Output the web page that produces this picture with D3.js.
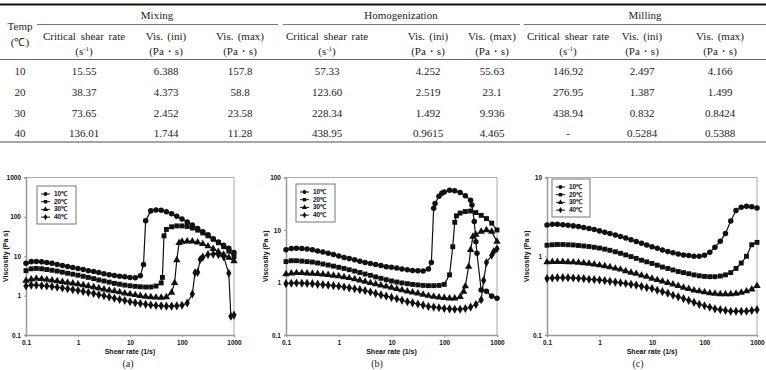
<!DOCTYPE html>
<html>
<head>
<meta charset="utf-8">
<script src="https://cdn.jsdelivr.net/npm/d3@7"></script>
<style>
  body { margin: 0; background: #fff; }
  svg { display: block; }
  .tbl text { font-family: "Liberation Serif", "Times New Roman", serif; font-size: 11px; fill: #222; text-anchor: middle; }
  .plot text { font-family: "Liberation Sans", Arial, sans-serif; font-weight: bold; font-size: 6.5px; fill: #111; }
  .plot .ttl { font-size: 7px; }
  .caption { font-family: "Liberation Serif", serif; font-size: 10px; fill: #222; text-anchor: middle; }
</style>
</head>
<body>
<svg id="fig" width="766" height="370"></svg>
<script>
// ---- table values ----
const tableTemps  = ["10", "20", "30", "40"];
const mixCritical = ["15.55", "38.37", "73.65", "136.01"];
const mixIni      = ["6.388", "4.373", "2.452", "1.744"];
const mixMax      = ["157.8", "58.8", "23.58", "11.28"];
const homCritical = ["57.33", "123.60", "228.34", "438.95"];
const homIni      = ["4.252", "2.519", "1.492", "0.9615"];
const homMax      = ["55.63", "23.1", "9.936", "4.465"];
const milCritical = ["146.92", "276.95", "438.94", "-"];
const milIni      = ["2.497", "1.387", "0.832", "0.5284"];
const milMax      = ["4.166", "1.499", "0.8424", "0.5388"];

// ---- chart values ----
const temps = ["10\u2103", "20\u2103", "30\u2103", "40\u2103"];
const rateTicks = [0.1, 1, 10, 100, 1000];
const rateLabels = ["0.1", "1", "10", "100", "1000"];

const shearRate = [0.1, 0.126, 0.158, 0.2, 0.251, 0.316, 0.398, 0.501, 0.631, 0.794,
  1, 1.26, 1.58, 2, 2.51, 3.16, 3.98, 5.01, 6.31, 7.94,
  10, 12.6, 15.8, 20, 25.1, 31.6, 39.8, 50.1, 63.1, 79.4,
  100, 126, 158, 200, 251, 316, 398, 501, 631, 794, 1000];

// (a) mixing
const mix10 = [6.6,7.3,7.4,7.2,6.9,6.6,6.2,5.8,5.5,5.2, 4.9,4.6,4.3,4.1,3.85,3.6,3.4,3.25,3.1,3.0,
  2.9,2.85,3.2,80,142,150,147,135,120,104, 88,74,62,51,42,35,28,23,19,16, 12.5];
const mix20 = [4.3,4.8,4.9,4.8,4.6,4.4,4.2,3.95,3.7,3.5, 3.3,3.1,2.9,2.7,2.5,2.35,2.2,2.05,1.95,1.85,
  1.78,1.72,1.68,1.65,1.66,1.75,2.1,48,56,59, 59,57,52,46,39,33,27,22,17.5,13.5, 9.8];
const mix30 = [2.4,2.6,2.7,2.65,2.55,2.45,2.35,2.25,2.15,2.05, 1.95,1.85,1.75,1.65,1.55,1.45,1.37,1.3,1.22,1.15,
  1.1,1.04,0.99,0.95,0.92,0.9,0.89,0.92,1.2,8, 23.5,24,24,22.5,20.5,18,15.5,13,11,9.3, 7.5];
const mix40 = [1.75,1.85,1.85,1.8,1.75,1.7,1.63,1.56,1.49,1.42, 1.35,1.28,1.2,1.13,1.06,0.99,0.92,0.86,0.8,0.75,
  0.7,0.66,0.63,0.6,0.58,0.56,0.55,0.54,0.54,0.55, 0.57,0.65,1.1,3.9,9.5,11,11.3,11,9.8,3.7, 0.32];
// extra readings in the jumps: [series, rate, viscosity]
const mixExtra = [[0, 18.2, 6.2], [1, 42, 2.9], [1, 45, 33], [2, 72, 2.1], [2, 88, 22],
  [3, 178, 3.8], [3, 224, 8.3], [3, 870, 0.3]];

// (b) homogenization
const hom10 = [4.2,4.45,4.5,4.45,4.35,4.2,4.0,3.8,3.6,3.4, 3.2,3.0,2.85,2.7,2.55,2.4,2.3,2.2,2.1,2.0,
  1.95,1.88,1.8,1.75,1.7,1.67,1.65,1.8,26,44, 53,57,56,52,45,37,6,0.72,0.68,0.55, 0.5];
const hom20 = [2.5,2.6,2.6,2.55,2.5,2.45,2.35,2.25,2.15,2.05, 1.95,1.85,1.75,1.65,1.55,1.45,1.37,1.28,1.2,1.13,
  1.07,1.02,0.98,0.95,0.92,0.9,0.88,0.87,0.87,0.88, 0.92,1.4,14,21,22.5,23,21.5,19,16.5,13.5, 10];
const hom30 = [1.45,1.5,1.52,1.52,1.5,1.48,1.46,1.43,1.4,1.36, 1.32,1.27,1.22,1.16,1.1,1.04,0.98,0.93,0.88,0.84,
  0.8,0.76,0.72,0.68,0.65,0.62,0.59,0.56,0.54,0.52, 0.51,0.5,0.5,0.53,0.85,4.2,8.2,9.3,10,9.3, 6];
const hom40 = [0.95,0.97,0.98,0.97,0.96,0.95,0.93,0.91,0.89,0.87, 0.85,0.82,0.79,0.76,0.73,0.7,0.66,0.62,0.58,0.55,
  0.52,0.49,0.46,0.43,0.41,0.39,0.37,0.35,0.34,0.33, 0.32,0.315,0.31,0.31,0.32,0.34,0.38,0.47,2.4,3.3, 4.4];
const homExtra = [[0, 57, 2.4], [0, 67, 32], [0, 90, 50], [0, 335, 30], [0, 371, 14.5], [0, 417, 3.6],
  [1, 145, 4.8], [1, 170, 18.6], [2, 233, 0.67], [2, 290, 2.0], [2, 350, 7.5], [3, 558, 1.1], [3, 870, 3.9]];

// (c) milling
const mil10 = [2.5,2.55,2.55,2.52,2.48,2.43,2.38,2.32,2.25,2.18, 2.1,2.02,1.94,1.86,1.78,1.7,1.62,1.54,1.46,1.39,
  1.32,1.26,1.2,1.15,1.11,1.07,1.04,1.02,1.0,1.0, 1.03,1.12,1.3,1.55,1.95,2.8,3.8,4.2,4.3,4.25, 4.1];
const mil20 = [1.38,1.4,1.41,1.41,1.4,1.39,1.37,1.35,1.33,1.3, 1.27,1.23,1.19,1.14,1.09,1.04,0.99,0.94,0.89,0.85,
  0.81,0.77,0.73,0.7,0.67,0.64,0.62,0.6,0.58,0.565, 0.555,0.55,0.55,0.56,0.58,0.62,0.7,0.82,1.0,1.4, 1.5];
const mil30 = [0.84,0.85,0.85,0.85,0.845,0.84,0.83,0.82,0.805,0.79, 0.77,0.75,0.73,0.7,0.68,0.65,0.62,0.6,0.57,0.55,
  0.52,0.5,0.48,0.46,0.44,0.42,0.4,0.385,0.37,0.36, 0.35,0.34,0.335,0.33,0.33,0.33,0.335,0.345,0.36,0.38, 0.42];
const mil40 = [0.52,0.53,0.535,0.535,0.535,0.53,0.525,0.52,0.51,0.505, 0.5,0.49,0.48,0.47,0.46,0.45,0.44,0.43,0.415,0.4,
  0.39,0.37,0.355,0.34,0.32,0.305,0.29,0.275,0.26,0.245, 0.235,0.225,0.215,0.21,0.205,0.2,0.2,0.2,0.2,0.205, 0.21];
const milExtra = [];

const svg = d3.select("#fig");

// ================= table =================
const tbl = svg.append("g").attr("class", "tbl");
const colX = [20, 84, 166, 240, 327, 428, 492, 568, 642, 720];
const rowY = [75, 96, 117, 137];

function hline(x1, x2, y, col, w) {
  tbl.append("line").attr("x1", x1).attr("x2", x2).attr("y1", y).attr("y2", y)
    .attr("stroke", col).attr("stroke-width", w);
}
hline(0, 766, 4.5, "#111", 2);
hline(37, 278, 24.5, "#777", 1);
hline(283, 520, 24.5, "#777", 1);
hline(524, 766, 24.5, "#777", 1);
hline(0, 766, 59.5, "#666", 1);
hline(0, 766, 142, "#888", 1.5);

tbl.append("text").attr("x", colX[0]).attr("y", 30).text("Temp");
tbl.append("text").attr("x", colX[0]).attr("y", 46).text("(\u2103)");
[["Mixing", 157], ["Homogenization", 401], ["Milling", 645]].forEach(function(g) {
  tbl.append("text").attr("x", g[1]).attr("y", 19).text(g[0]);
});

const subHead = ["crit", "ini", "max", "crit", "ini", "max", "crit", "ini", "max"];
subHead.forEach(function(kind, i) {
  const cx = colX[i + 1];
  const t1 = tbl.append("text").attr("x", cx).attr("y", 40).attr("word-spacing", kind === "crit" ? 2 : 1.5);
  const t2 = tbl.append("text").attr("x", cx).attr("y", 55);
  if (kind === "crit") {
    t1.text("Critical shear rate");
    t2.append("tspan").text("(s");
    t2.append("tspan").attr("dy", -4).attr("font-size", 7).text("-1");
    t2.append("tspan").attr("dy", 4).text(")");
  } else {
    t1.text(kind === "ini" ? "Vis. (ini)" : "Vis. (max)");
    t2.text("(Pa\u30FBs)");
  }
});

const tableCols = [tableTemps, mixCritical, mixIni, mixMax, homCritical, homIni, homMax, milCritical, milIni, milMax];
tableCols.forEach(function(col, c) {
  col.forEach(function(v, r) {
    tbl.append("text").attr("x", colX[c]).attr("y", rowY[r]).text(v);
  });
});

// ================= charts =================
const symbols = [d3.symbolCircle, d3.symbolSquare, d3.symbolTriangle, d3.symbolDiamond];

const panels = [
  { series: [mix10, mix20, mix30, mix40], extra: mixExtra, yDomain: [0.1, 1000],
    yTicks: [0.1, 1, 10, 100, 1000], yLabels: ["0.1", "1", "10", "100", "1000"],
    left: 26, right: 234, top: 177.5, bottom: 335, ylabX: 7.5, legend: [37, 186, 39, 38], cap: "(a)", capX: 128 },
  { series: [hom10, hom20, hom30, hom40], extra: homExtra, yDomain: [0.1, 100],
    yTicks: [0.1, 1, 10, 100], yLabels: ["0.1", "1", "10", "100"],
    left: 286, right: 497, top: 177.5, bottom: 335, ylabX: 267.5, legend: [296, 184, 39, 38], cap: "(b)", capX: 377 },
  { series: [mil10, mil20, mil30, mil40], extra: milExtra, yDomain: [0.1, 10],
    yTicks: [0.1, 1, 10], yLabels: ["0.1", "1", "10"],
    left: 547, right: 757, top: 177.5, bottom: 335, ylabX: 528.5, legend: [552, 179, 38, 38], cap: "(c)", capX: 638 }
];

panels.forEach(function(p) {
  const g = svg.append("g").attr("class", "plot");
  const x = d3.scaleLog().domain([0.1, 1000]).range([p.left, p.right]);
  const y = d3.scaleLog().domain(p.yDomain).range([p.bottom, p.top]);

  // top / right frame
  g.append("path")
    .attr("d", "M" + p.left + "," + p.top + "H" + p.right + "V" + p.bottom)
    .attr("fill", "none").attr("stroke", "#aaa").attr("stroke-width", 1);

  const ya = g.append("g").attr("transform", "translate(" + p.left + ",0)")
    .call(d3.axisLeft(y).tickValues(p.yTicks).tickFormat(function(d, i) { return p.yLabels[i]; })
      .tickSize(2).tickPadding(3));
  const xa = g.append("g").attr("transform", "translate(0," + p.bottom + ")")
    .call(d3.axisBottom(x).tickValues(rateTicks).tickFormat(function(d, i) { return rateLabels[i]; })
      .tickSize(2).tickPadding(3));
  [ya, xa].forEach(function(a) {
    a.select(".domain").attr("stroke", "#999").attr("stroke-width", 1.5);
    a.selectAll(".tick line").attr("stroke", "#999");
    a.selectAll("text").attr("font-family", null).attr("font-size", null);
  });

  g.append("text").attr("class", "ttl").attr("x", (p.left + p.right) / 2).attr("y", 354)
    .attr("text-anchor", "middle").text("Shear rate (1/s)");
  g.append("text").attr("class", "ttl")
    .attr("transform", "translate(" + p.ylabX + "," + (p.top + p.bottom) / 2 + ") rotate(-90)")
    .attr("text-anchor", "middle").text("Viscosity (Pa s)");

  const line = d3.line().x(function(d) { return x(d[0]); }).y(function(d) { return y(d[1]); });

  p.series.forEach(function(vals, si) {
    let pts = shearRate.map(function(r, i) { return [r, vals[i]]; });
    p.extra.filter(function(e) { return e[0] === si; }).forEach(function(e) { pts.push([e[1], e[2]]); });
    pts.sort(function(a, b) { return a[0] - b[0]; });

    g.append("path").datum(pts).attr("d", line)
      .attr("fill", "none").attr("stroke", "#111").attr("stroke-width", 1.2);
    g.selectAll(null).data(pts).enter().append("path")
      .attr("transform", function(d) { return "translate(" + x(d[0]) + "," + y(d[1]) + ")"; })
      .attr("d", d3.symbol().type(symbols[si]).size(24))
      .attr("fill", "#111");
  });

  // legend
  const L = p.legend;
  const lg = g.append("g");
  lg.append("rect").attr("x", L[0]).attr("y", L[1]).attr("width", L[2]).attr("height", L[3])
    .attr("fill", "#fff").attr("stroke", "#777").attr("stroke-width", 1);
  temps.forEach(function(t, i) {
    const ly = L[1] + 8 + i * 7.7;
    lg.append("line").attr("x1", L[0] + 4).attr("x2", L[0] + 13).attr("y1", ly).attr("y2", ly)
      .attr("stroke", "#111").attr("stroke-width", 1);
    lg.append("path").attr("transform", "translate(" + (L[0] + 8.5) + "," + ly + ")")
      .attr("d", d3.symbol().type(symbols[i]).size(12)).attr("fill", "#111");
    lg.append("text").attr("x", L[0] + 17).attr("y", ly + 2).text(t);
  });

  svg.append("text").attr("class", "caption").attr("x", p.capX).attr("y", 367).text(p.cap);
});
</script>
</body>
</html>
